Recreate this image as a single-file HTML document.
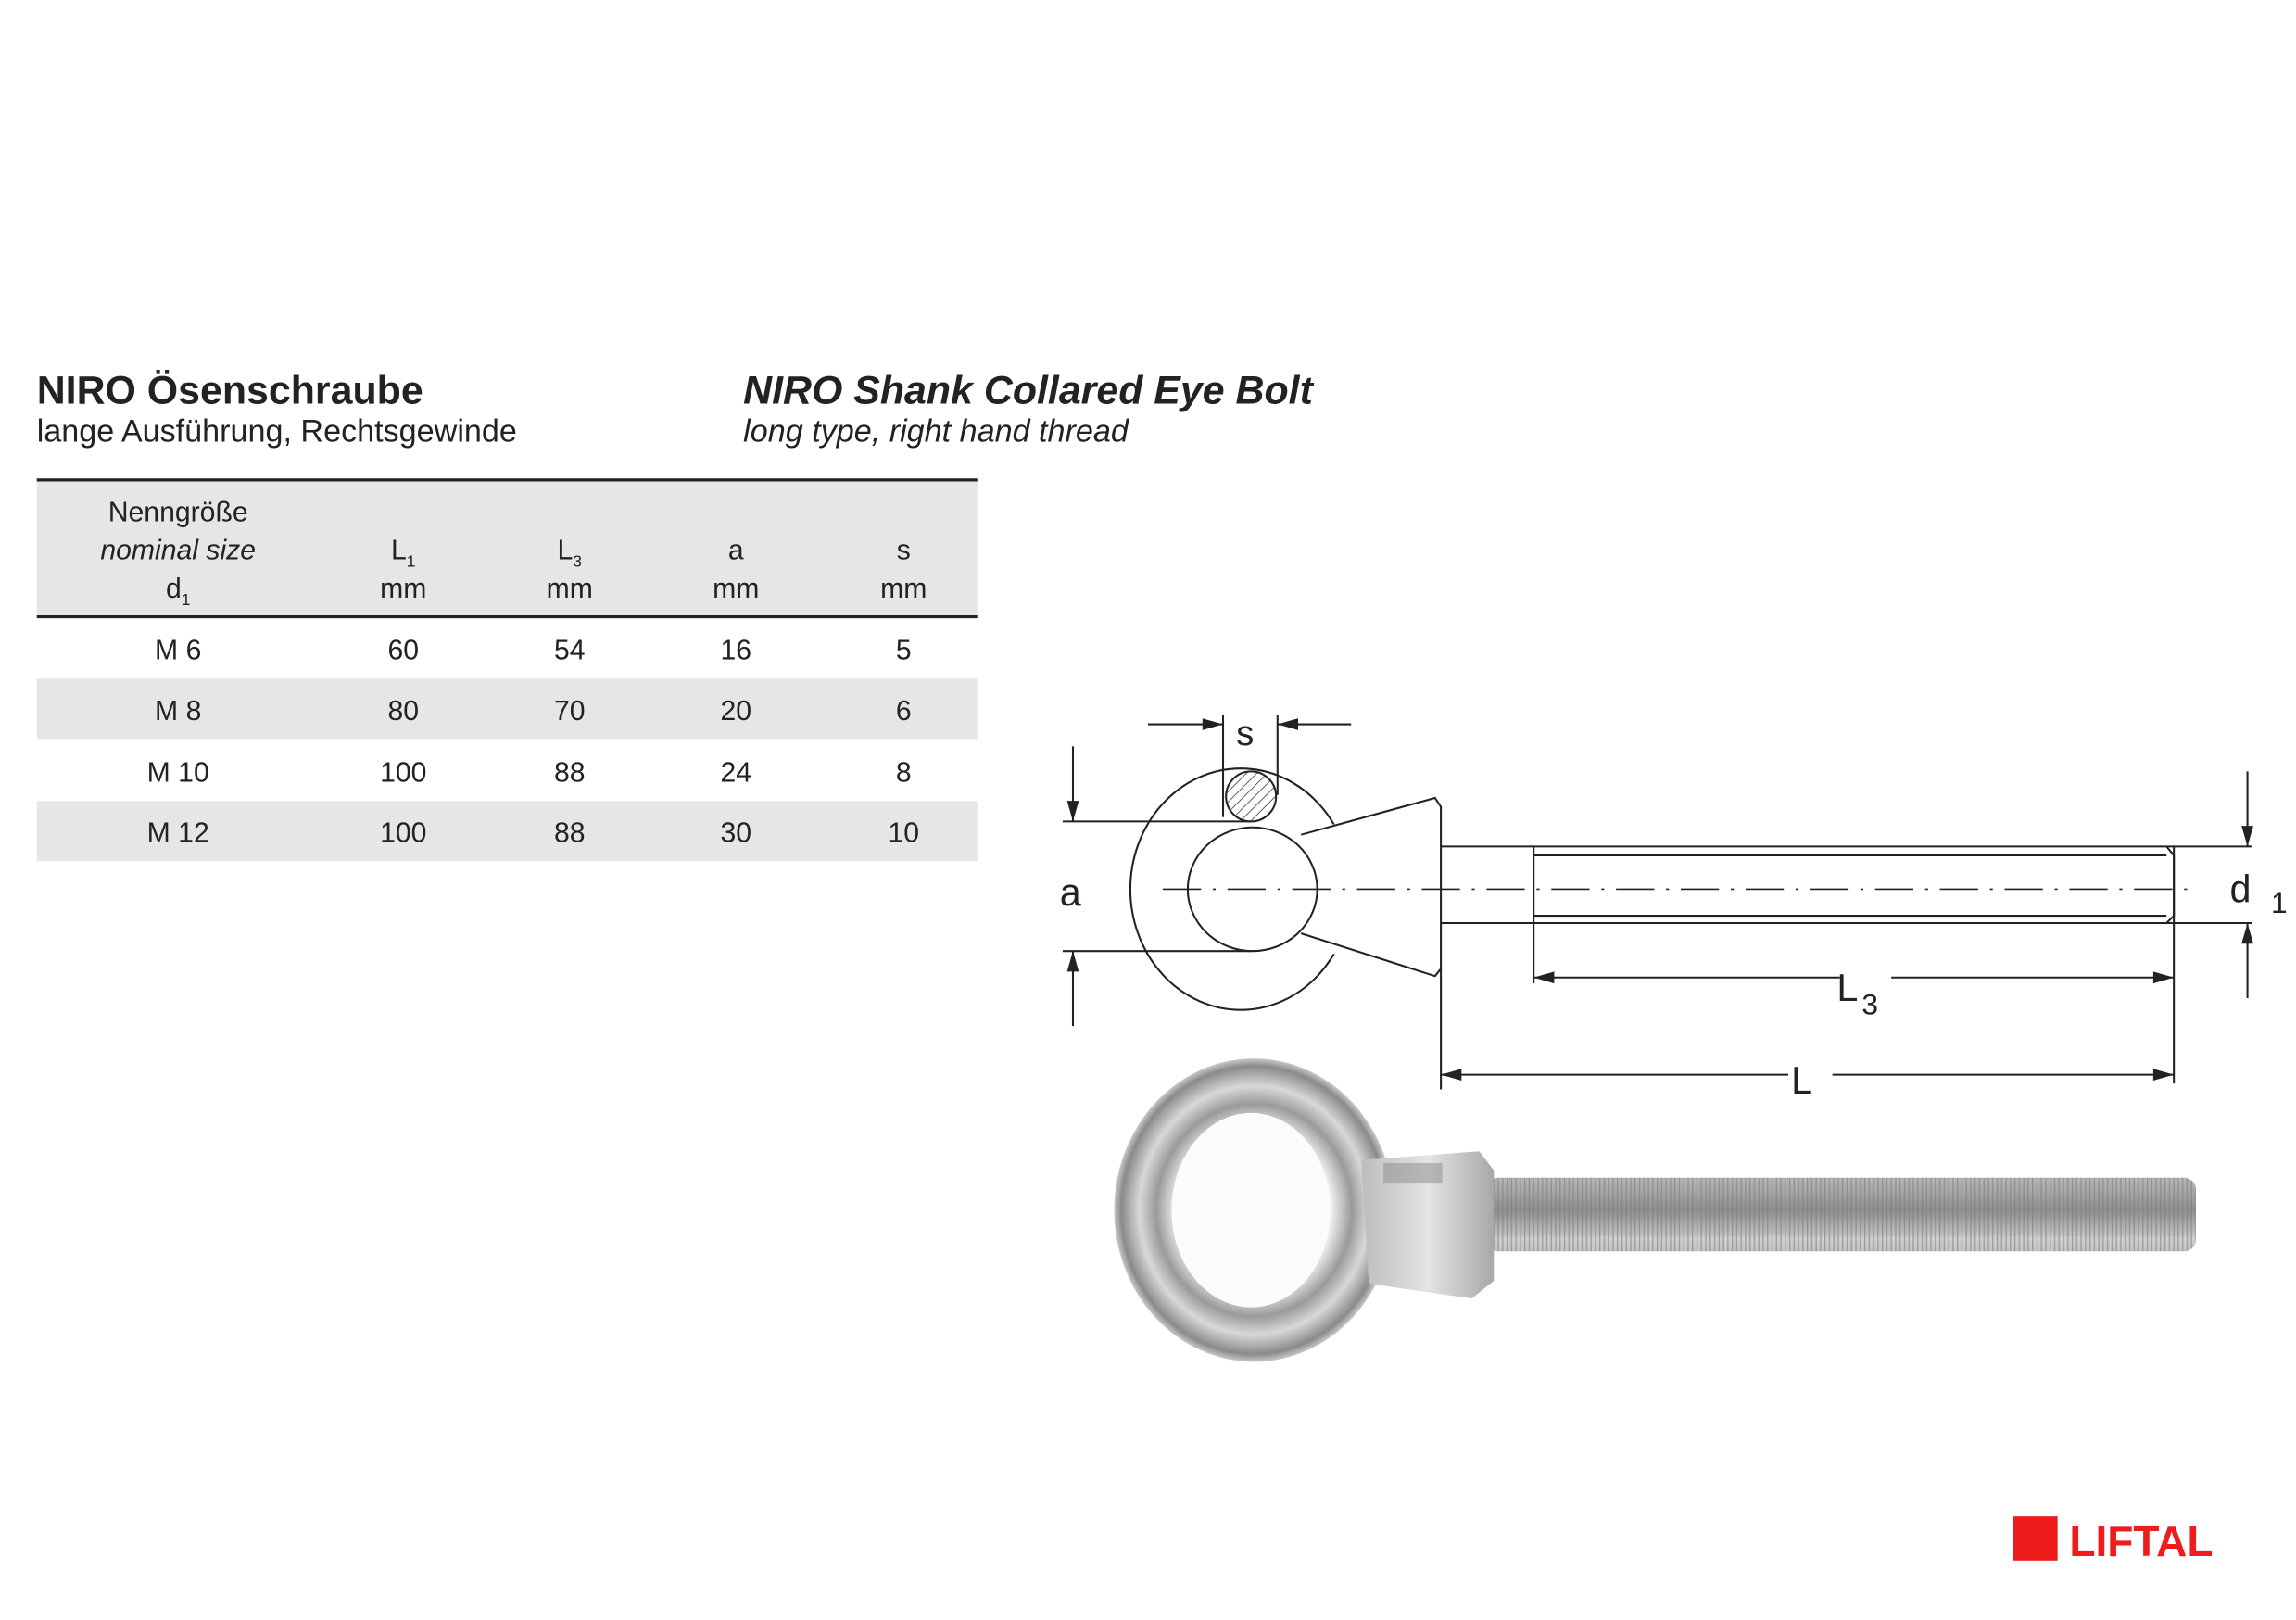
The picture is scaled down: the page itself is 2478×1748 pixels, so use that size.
<!DOCTYPE html>
<html><head><meta charset="utf-8"><style>
html,body{margin:0;padding:0;background:#fff;}
svg{display:block}
text{font-family:"Liberation Sans",Arial,sans-serif;fill:#222}
</style></head><body>
<svg width="2478" height="1748" viewBox="0 0 1560 1100.4" xmlns="http://www.w3.org/2000/svg">
<defs>
<pattern id="hatch" width="5" height="5" patternUnits="userSpaceOnUse" patternTransform="rotate(45)">
<line x1="0" y1="0" x2="0" y2="5" stroke="#333" stroke-width="1"/></pattern>
<radialGradient id="ring" cx="50%" cy="50%" r="50%">
<stop offset="0.55" stop-color="#f2f2f2"/><stop offset="0.7" stop-color="#9a9a9a"/><stop offset="0.82" stop-color="#d8d8d8"/><stop offset="0.95" stop-color="#8a8a8a"/><stop offset="1" stop-color="#c8c8c8"/></radialGradient>
<linearGradient id="shank" x1="0" y1="0" x2="0" y2="1">
<stop offset="0" stop-color="#d0d0d0"/><stop offset="0.4" stop-color="#b0b0b0"/><stop offset="0.7" stop-color="#8e8e8e"/><stop offset="1" stop-color="#c4c4c4"/></linearGradient>
<pattern id="thr" width="3" height="60" patternUnits="userSpaceOnUse">
<rect width="3" height="60" fill="url(#shank)"/><line x1="1" y1="0" x2="1" y2="60" stroke="#7a7a7a" stroke-width="0.8" opacity="0.6"/></pattern>
<linearGradient id="col" x1="0" y1="0" x2="1" y2="0">
<stop offset="0" stop-color="#bdbdbd"/><stop offset="0.5" stop-color="#e4e4e4"/><stop offset="1" stop-color="#a8a8a8"/></linearGradient>
</defs>

<text x="25" y="274" font-size="27" font-weight="bold">NIRO Ösenschraube</text>
<text x="25" y="300" font-size="21.5">lange Ausführung, Rechtsgewinde</text>
<text x="505" y="274" font-size="27" font-weight="bold" font-style="italic">NIRO Shank Collared Eye Bolt</text>
<text x="505" y="300" font-size="21.5" font-style="italic">long type, right hand thread</text>

<rect x="25" y="326" width="639" height="92" fill="#e6e6e6"/>
<rect x="25" y="461" width="639" height="41" fill="#e6e6e6"/>
<rect x="25" y="544" width="639" height="41" fill="#e6e6e6"/>
<line x1="25" y1="326" x2="664" y2="326" stroke="#222" stroke-width="2"/>
<line x1="25" y1="419" x2="664" y2="419" stroke="#222" stroke-width="2"/>
<g font-size="19" text-anchor="middle">
<text x="121" y="354">Nenngröße</text>
<text x="121" y="380" font-style="italic">nominal size</text>
<text x="121" y="406">d<tspan font-size="11" dy="5">1</tspan></text>
<text x="274" y="380">L<tspan font-size="11" dy="5">1</tspan></text><text x="274" y="406">mm</text>
<text x="387" y="380">L<tspan font-size="11" dy="5">3</tspan></text><text x="387" y="406">mm</text>
<text x="500" y="380">a</text><text x="500" y="406">mm</text>
<text x="614" y="380">s</text><text x="614" y="406">mm</text>
<text x="121" y="448">M 6</text><text x="274" y="448">60</text><text x="387" y="448">54</text><text x="500" y="448">16</text><text x="614" y="448">5</text>
<text x="121" y="489">M 8</text><text x="274" y="489">80</text><text x="387" y="489">70</text><text x="500" y="489">20</text><text x="614" y="489">6</text>
<text x="121" y="531">M 10</text><text x="274" y="531">100</text><text x="387" y="531">88</text><text x="500" y="531">24</text><text x="614" y="531">8</text>
<text x="121" y="572">M 12</text><text x="274" y="572">100</text><text x="387" y="572">88</text><text x="500" y="572">30</text><text x="614" y="572">10</text>
</g>

<g fill="none" stroke="#222" stroke-width="1.3">
<ellipse cx="843" cy="604" rx="75" ry="82"/>
<rect x="880" y="560" width="95" height="88" fill="#fff" stroke="none"/>
<ellipse cx="851" cy="604" rx="44" ry="42" fill="#fff"/>
<circle cx="850" cy="541" r="17" fill="url(#hatch)"/>
<path d="M884 567 L975 542 L979 548 L979 658 L975 663 L884 634"/>
<line x1="979" y1="575" x2="1530" y2="575"/>
<line x1="979" y1="627" x2="1530" y2="627"/>
<line x1="1042" y1="581" x2="1472" y2="581"/>
<line x1="1042" y1="622" x2="1472" y2="622"/>
<line x1="1042" y1="575" x2="1042" y2="668"/>
<path d="M1472 575 L1477 581 L1477 622 L1472 627"/>
<line x1="1477" y1="575" x2="1477" y2="736"/>
<line x1="979" y1="658" x2="979" y2="740"/>
<line x1="790" y1="604" x2="1490" y2="604" stroke-dasharray="26 8 2 8" stroke-width="1"/>
<line x1="831" y1="486" x2="831" y2="555"/>
<line x1="868" y1="486" x2="868" y2="540"/>
<line x1="780" y1="492" x2="831" y2="492"/>
<line x1="868" y1="492" x2="918" y2="492"/>
<line x1="722" y1="558" x2="850" y2="558"/>
<line x1="722" y1="646" x2="850" y2="646"/>
<line x1="729" y1="507" x2="729" y2="558"/>
<line x1="729" y1="646" x2="729" y2="697"/>
<line x1="1527" y1="524" x2="1527" y2="575"/>
<line x1="1527" y1="627" x2="1527" y2="678"/>
<line x1="1042" y1="664" x2="1250" y2="664"/><line x1="1285" y1="664" x2="1477" y2="664"/>
<line x1="979" y1="730" x2="1215" y2="730"/><line x1="1245" y1="730" x2="1477" y2="730"/>
</g>
<g fill="#222">
<path d="M831 492 l-14 -4 v8z"/><path d="M868 492 l14 -4 v8z"/>
<path d="M729 558 l-4 -14 h8z"/><path d="M729 646 l-4 14 h8z"/>
<path d="M1527 575 l-4 -14 h8z"/><path d="M1527 627 l-4 14 h8z"/>
<path d="M1042 664 l14 -4 v8z"/><path d="M1477 664 l-14 -4 v8z"/>
<path d="M979 730 l14 -4 v8z"/><path d="M1477 730 l-14 -4 v8z"/>
</g>
<g font-size="26" fill="#333">
<text x="840" y="506" font-size="24">s</text>
<text x="720" y="615">a</text>
<text x="1515" y="613">d</text><text x="1543" y="620" font-size="20">1</text>
<text x="1248" y="680">L</text><text x="1265" y="689" font-size="20">3</text>
<text x="1217" y="743">L</text>
</g>

<rect x="1010" y="800" width="482" height="50" rx="8" fill="url(#thr)"/>
<ellipse cx="852" cy="822" rx="95" ry="103" fill="url(#ring)"/>
<ellipse cx="850" cy="822" rx="54" ry="66" fill="#fbfbfb"/>
<path d="M925 788 L1005 782 L1015 795 L1015 870 L1000 882 L930 872 Z" fill="url(#col)"/>
<rect x="940" y="790" width="40" height="14" fill="#8a8a8a" opacity="0.5"/>

<rect x="1368" y="1030" width="30" height="30" fill="#ee1c1c"/>
<text x="1406" y="1057" font-size="29" font-weight="bold" style="fill:#ee1c1c">LIFTAL</text>
</svg>
</body></html>
